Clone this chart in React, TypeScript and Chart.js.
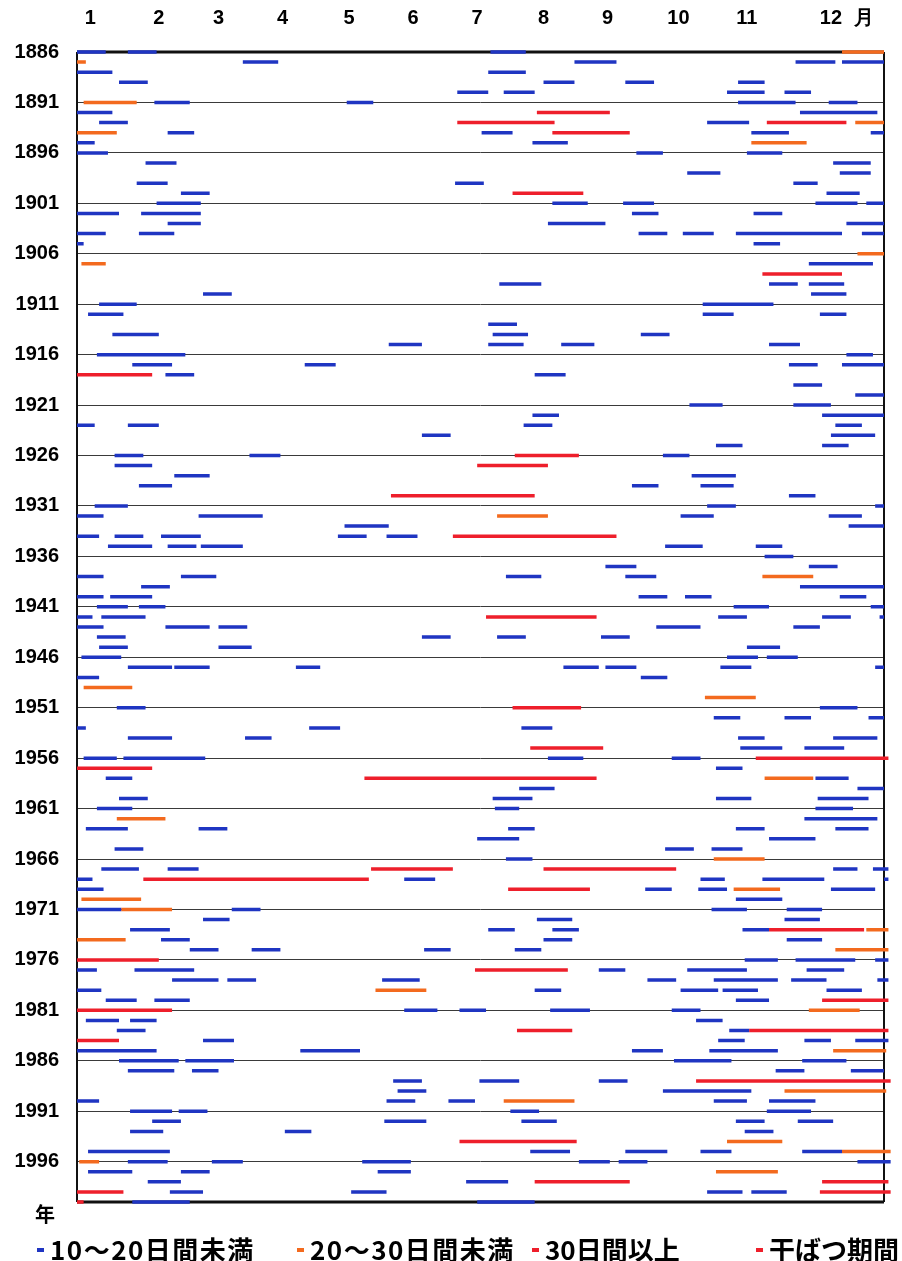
import { useEffect, useRef } from "react";
import { Chart, registerables } from "chart.js";

Chart.register(...registerables);

// Year axis ticks (gridlines every 5 years)
const yearTicks = [1886, 1891, 1896, 1901, 1906, 1911, 1916, 1921, 1926, 1931, 1936, 1941, 1946, 1951, 1956, 1961, 1966, 1971, 1976, 1981, 1986, 1991, 1996];
const yearMin = 1886;
const yearMax = 2000;

// Month labels on the top axis (day-of-year where each label sits)
const monthLabels = ["1", "2", "3", "4", "5", "6", "7", "8", "9", "10", "11", "12", "月"];
const monthLabelDays = [6, 37, 64, 93, 123, 152, 181, 211, 240, 272, 303, 341, 356];

const legendLabels = ["10～20日間未満", "20～30日間未満", "30日間以上", "干ばつ期間"];
const seriesColors = ["#1f35c2", "#f36a1e", "#ee1f2b", "#ee1f2b"];

// [year, start day, end day]
const spells10to20: [number, number, number][] = [
  [1886, 0, 13], [1886, 23, 36], [1886, 187, 203],
  [1887, 75, 91], [1887, 225, 244], [1887, 325, 343], [1887, 346, 365],
  [1888, 0, 16], [1888, 186, 203],
  [1889, 19, 32], [1889, 211, 225], [1889, 248, 261], [1889, 299, 311],
  [1890, 172, 186], [1890, 193, 207], [1890, 294, 311], [1890, 320, 332],
  [1891, 35, 51], [1891, 122, 134], [1891, 299, 325], [1891, 340, 353],
  [1892, 0, 16], [1892, 327, 362],
  [1893, 10, 23], [1893, 285, 304],
  [1894, 41, 53], [1894, 183, 197], [1894, 305, 322], [1894, 359, 365],
  [1895, 0, 8], [1895, 206, 222],
  [1896, 0, 14], [1896, 253, 265], [1896, 303, 319],
  [1897, 31, 45], [1897, 342, 359],
  [1898, 276, 291], [1898, 345, 359],
  [1899, 27, 41], [1899, 171, 184], [1899, 324, 335],
  [1900, 47, 60], [1900, 339, 354],
  [1901, 36, 56], [1901, 215, 231], [1901, 247, 261], [1901, 334, 353], [1901, 357, 365],
  [1902, 0, 19], [1902, 29, 56], [1902, 251, 263], [1902, 306, 319],
  [1903, 41, 56], [1903, 213, 239], [1903, 348, 365],
  [1904, 0, 13], [1904, 28, 44], [1904, 254, 267], [1904, 274, 288], [1904, 298, 322], [1904, 322, 346], [1904, 355, 365],
  [1905, 0, 3], [1905, 306, 318],
  [1907, 331, 360],
  [1909, 191, 210], [1909, 313, 326], [1909, 331, 347],
  [1910, 57, 70], [1910, 332, 348],
  [1911, 10, 27], [1911, 283, 315],
  [1912, 5, 21], [1912, 283, 297], [1912, 336, 348],
  [1913, 186, 199],
  [1914, 16, 37], [1914, 188, 204], [1914, 255, 268],
  [1915, 141, 156], [1915, 186, 202], [1915, 219, 234], [1915, 313, 327],
  [1916, 9, 49], [1916, 348, 360],
  [1917, 25, 43], [1917, 103, 117], [1917, 322, 335], [1917, 346, 365],
  [1918, 40, 53], [1918, 207, 221],
  [1919, 324, 337],
  [1920, 352, 365],
  [1921, 277, 292], [1921, 324, 341],
  [1922, 206, 218], [1922, 337, 365],
  [1923, 0, 8], [1923, 23, 37], [1923, 202, 215], [1923, 343, 355],
  [1924, 156, 169], [1924, 341, 361],
  [1925, 289, 301], [1925, 337, 349],
  [1926, 17, 30], [1926, 78, 92], [1926, 265, 277],
  [1927, 17, 34],
  [1928, 44, 60], [1928, 278, 298],
  [1929, 28, 43], [1929, 251, 263], [1929, 282, 297],
  [1930, 322, 334],
  [1931, 8, 23], [1931, 285, 298], [1931, 361, 365],
  [1932, 0, 12], [1932, 55, 84], [1932, 273, 288], [1932, 340, 355],
  [1933, 121, 141], [1933, 349, 365],
  [1934, 0, 10], [1934, 17, 30], [1934, 38, 56], [1934, 118, 131], [1934, 140, 154],
  [1935, 14, 34], [1935, 41, 54], [1935, 56, 75], [1935, 266, 283], [1935, 307, 319],
  [1936, 311, 324],
  [1937, 239, 253], [1937, 331, 344],
  [1938, 0, 12], [1938, 47, 63], [1938, 194, 210], [1938, 248, 262],
  [1939, 29, 42], [1939, 327, 365],
  [1940, 0, 12], [1940, 15, 34], [1940, 254, 267], [1940, 275, 287], [1940, 345, 357],
  [1941, 9, 23], [1941, 28, 40], [1941, 297, 313], [1941, 359, 365],
  [1942, 0, 7], [1942, 11, 31], [1942, 290, 303], [1942, 337, 350], [1942, 363, 365],
  [1943, 0, 12], [1943, 40, 60], [1943, 64, 77], [1943, 262, 282], [1943, 324, 336],
  [1944, 9, 22], [1944, 156, 169], [1944, 190, 203], [1944, 237, 250],
  [1945, 10, 23], [1945, 64, 79], [1945, 303, 318],
  [1946, 2, 20], [1946, 294, 308], [1946, 312, 326],
  [1947, 23, 43], [1947, 44, 60], [1947, 99, 110], [1947, 220, 236], [1947, 239, 253], [1947, 291, 305], [1947, 361, 365],
  [1948, 0, 10], [1948, 255, 267],
  [1951, 18, 31], [1951, 336, 353],
  [1952, 288, 300], [1952, 320, 332], [1952, 358, 365],
  [1953, 0, 4], [1953, 105, 119], [1953, 201, 215],
  [1954, 23, 43], [1954, 76, 88], [1954, 299, 311], [1954, 342, 362],
  [1955, 300, 319], [1955, 329, 347],
  [1956, 3, 18], [1956, 21, 58], [1956, 213, 229], [1956, 269, 282],
  [1957, 289, 301],
  [1958, 13, 25], [1958, 334, 349],
  [1959, 200, 216], [1959, 353, 365],
  [1960, 19, 32], [1960, 188, 206], [1960, 289, 305], [1960, 335, 358],
  [1961, 9, 25], [1961, 189, 200], [1961, 334, 351],
  [1962, 329, 362],
  [1963, 4, 23], [1963, 55, 68], [1963, 195, 207], [1963, 298, 311], [1963, 343, 358],
  [1964, 181, 200], [1964, 313, 334],
  [1965, 17, 30], [1965, 266, 279], [1965, 287, 301],
  [1966, 194, 206],
  [1967, 11, 28], [1967, 41, 55], [1967, 342, 353], [1967, 360, 367],
  [1968, 0, 7], [1968, 148, 162], [1968, 282, 293], [1968, 310, 338], [1968, 365, 367],
  [1969, 0, 12], [1969, 257, 269], [1969, 281, 294], [1969, 341, 361],
  [1970, 298, 319],
  [1971, 0, 20], [1971, 70, 83], [1971, 287, 303], [1971, 321, 337],
  [1972, 57, 69], [1972, 208, 224], [1972, 320, 336],
  [1973, 24, 42], [1973, 186, 198], [1973, 215, 227], [1973, 301, 313],
  [1974, 38, 51], [1974, 211, 224], [1974, 321, 337],
  [1975, 51, 64], [1975, 79, 92], [1975, 157, 169], [1975, 198, 210],
  [1976, 302, 317], [1976, 325, 352], [1976, 361, 367],
  [1977, 0, 9], [1977, 26, 53], [1977, 236, 248], [1977, 276, 303], [1977, 330, 347],
  [1978, 43, 64], [1978, 68, 81], [1978, 138, 155], [1978, 258, 271], [1978, 288, 317], [1978, 323, 339], [1978, 362, 367],
  [1979, 0, 11], [1979, 207, 219], [1979, 273, 290], [1979, 292, 308], [1979, 339, 355],
  [1980, 13, 27], [1980, 35, 51], [1980, 298, 313],
  [1981, 148, 163], [1981, 173, 185], [1981, 214, 232], [1981, 269, 282],
  [1982, 4, 19], [1982, 24, 36], [1982, 280, 292],
  [1983, 18, 31], [1983, 295, 304],
  [1984, 57, 71], [1984, 290, 302], [1984, 329, 341], [1984, 352, 367],
  [1985, 0, 36], [1985, 101, 128], [1985, 251, 265], [1985, 286, 317],
  [1986, 19, 46], [1986, 49, 71], [1986, 270, 296], [1986, 328, 348],
  [1987, 23, 44], [1987, 52, 64], [1987, 316, 329], [1987, 350, 365],
  [1988, 143, 156], [1988, 182, 200], [1988, 236, 249],
  [1989, 145, 158], [1989, 265, 305],
  [1990, 0, 10], [1990, 140, 153], [1990, 168, 180], [1990, 288, 303], [1990, 313, 334],
  [1991, 24, 43], [1991, 46, 59], [1991, 196, 209], [1991, 312, 332],
  [1992, 34, 47], [1992, 139, 158], [1992, 201, 217], [1992, 298, 311], [1992, 326, 342],
  [1993, 24, 39], [1993, 94, 106], [1993, 302, 315],
  [1995, 5, 42], [1995, 205, 223], [1995, 248, 267], [1995, 282, 296], [1995, 328, 346],
  [1996, 23, 41], [1996, 61, 75], [1996, 129, 151], [1996, 227, 241], [1996, 245, 258], [1996, 353, 368],
  [1997, 5, 25], [1997, 47, 60], [1997, 136, 151],
  [1998, 32, 47], [1998, 176, 195],
  [1999, 42, 57], [1999, 124, 140], [1999, 285, 301], [1999, 305, 321],
  [2000, 25, 51], [2000, 181, 207],
];

const spells20to30: [number, number, number][] = [
  [1886, 346, 365],
  [1887, 0, 4],
  [1891, 3, 27],
  [1893, 352, 365],
  [1894, 0, 18],
  [1895, 305, 330],
  [1906, 353, 365],
  [1907, 2, 13],
  [1932, 190, 213],
  [1938, 310, 333],
  [1949, 3, 25],
  [1950, 284, 307],
  [1958, 311, 333],
  [1962, 18, 40],
  [1966, 288, 311],
  [1969, 297, 318],
  [1970, 2, 29],
  [1971, 20, 43],
  [1973, 357, 367],
  [1974, 0, 22],
  [1975, 343, 367],
  [1979, 135, 158],
  [1981, 331, 354],
  [1985, 342, 366],
  [1989, 320, 366],
  [1990, 193, 225],
  [1994, 294, 319],
  [1995, 346, 368],
  [1996, 1, 10],
  [1997, 289, 317],
];

const spells30plus: [number, number, number][] = [
  [1892, 208, 241],
  [1893, 172, 216], [1893, 312, 348],
  [1894, 215, 250],
  [1900, 197, 229],
  [1908, 310, 346],
  [1918, 0, 34],
  [1926, 198, 227],
  [1927, 181, 213],
  [1930, 142, 207],
  [1934, 170, 244],
  [1942, 185, 235],
  [1951, 197, 228],
  [1955, 205, 238],
  [1956, 307, 367],
  [1957, 0, 34],
  [1958, 130, 235],
  [1967, 133, 170], [1967, 211, 271],
  [1968, 30, 132],
  [1969, 195, 232],
  [1973, 313, 356],
  [1976, 0, 37],
  [1977, 180, 222],
  [1980, 337, 367],
  [1981, 0, 43],
  [1983, 199, 224], [1983, 304, 367],
  [1984, 0, 19],
  [1988, 280, 368],
  [1994, 173, 226],
  [1998, 207, 250], [1998, 337, 367],
  [1999, 0, 21], [1999, 336, 368],
  [2000, 0, 3],
];

const droughtPeriods: [number, number, number][] = [];

const allSeries = [spells10to20, spells20to30, spells30plus, droughtPeriods];

function toSegments(spells: [number, number, number][]) {
  const pts: { x: number | null; y: number | null }[] = [];
  spells.forEach(([year, start, end]) => {
    pts.push({ x: start, y: year }, { x: end, y: year }, { x: null, y: null });
  });
  return pts;
}

const tickFont = { family: '"Liberation Sans Narrow", "Liberation Sans", Arial, sans-serif', size: 20, weight: "bold" as const };

const framePlugin = {
  id: "frame",
  beforeDatasetsDraw(chart: any) {
    const { ctx, chartArea } = chart;
    const { left, right, top, bottom } = chartArea;
    ctx.save();
    ctx.strokeStyle = "#111";
    ctx.lineWidth = 2;
    ctx.beginPath();
    ctx.moveTo(left, top);
    ctx.lineTo(left, bottom);
    ctx.moveTo(right, top);
    ctx.lineTo(right, bottom);
    ctx.stroke();
    ctx.lineWidth = 3;
    ctx.beginPath();
    ctx.moveTo(left, top);
    ctx.lineTo(right, top);
    ctx.moveTo(left, bottom);
    ctx.lineTo(right, bottom);
    ctx.stroke();
    ctx.restore();
  },
  afterDraw(chart: any) {
    const { ctx, chartArea } = chart;
    ctx.save();
    ctx.fillStyle = "#000";
    ctx.font = 'bold 20px "Noto Sans CJK JP", sans-serif';
    ctx.textAlign = "center";
    ctx.textBaseline = "middle";
    ctx.fillText("年", chartArea.left - 32, chartArea.bottom + 12);

    // legend
    const starts = [37, 297, 532, 756];
    const ly = 1250;
    ctx.font = 'bold 26px "Noto Sans CJK JP", sans-serif';
    ctx.textAlign = "left";
    ctx.textBaseline = "middle";
    legendLabels.forEach((label, i) => {
      ctx.fillStyle = seriesColors[i];
      ctx.fillRect(starts[i], ly - 2, 7, 4);
      ctx.fillStyle = "#000";
      if ("letterSpacing" in ctx) (ctx as any).letterSpacing = i < 2 ? "1.5px" : "0px";
      ctx.fillText(label, starts[i] + 13, ly);
    });
    ctx.restore();
  },
};

export default function App() {
  const canvasRef = useRef<HTMLCanvasElement | null>(null);

  useEffect(() => {
    if (!canvasRef.current) return;
    const chart = new Chart(canvasRef.current, {
      type: "line",
      data: {
        datasets: allSeries.map((spells, i) => ({
          label: legendLabels[i],
          data: toSegments(spells) as any,
          borderColor: seriesColors[i],
          backgroundColor: seriesColors[i],
          borderWidth: 3.5,
          borderCapStyle: "butt" as const,
          pointRadius: 0,
          spanGaps: false,
          fill: false,
          clip: false as any,
        })),
      },
      options: {
        animation: false,
        responsive: true,
        maintainAspectRatio: false,
        layout: { padding: { left: 0, right: 18, top: 0, bottom: 59 } },
        plugins: { legend: { display: false }, tooltip: { enabled: false } },
        scales: {
          x: {
            type: "linear",
            position: "top",
            min: 0,
            max: 365,
            grid: { display: false, drawTicks: false },
            border: { display: false },
            afterBuildTicks: (s: any) => {
              s.ticks = monthLabelDays.map((v) => ({ value: v }));
            },
            afterFit: (s: any) => {
              s.height = 52;
            },
            ticks: {
              autoSkip: false,
              maxRotation: 0,
              padding: 22,
              color: "#000",
              font: tickFont,
              callback: (_v: any, i: number) => monthLabels[i],
            },
          },
          y: {
            type: "linear",
            reverse: true,
            min: yearMin,
            max: yearMax,
            afterBuildTicks: (s: any) => {
              s.ticks = yearTicks.map((v) => ({ value: v }));
            },
            afterFit: (s: any) => {
              s.width = 77;
            },
            grid: { color: "#3a3a3a", lineWidth: 1, drawTicks: false },
            border: { display: false },
            ticks: {
              autoSkip: false,
              padding: 18,
              color: "#000",
              font: tickFont,
              callback: (v: any) => String(v),
            },
          },
        },
      },
      plugins: [framePlugin],
    });
    return () => chart.destroy();
  }, []);

  return (
    <div style={{ position: "absolute", left: 0, top: 0, width: 902, height: 1261, background: "#fff" }}>
      <canvas ref={canvasRef} />
    </div>
  );
}
